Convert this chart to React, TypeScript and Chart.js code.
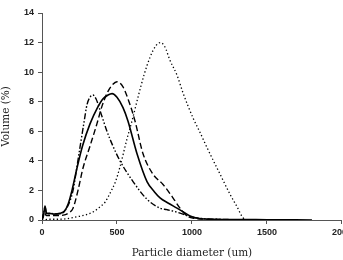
import React, { useEffect, useRef } from "react";
import { Chart, registerables } from "chart.js";

Chart.register(...registerables);

const solidX = [0, 10, 20, 30, 50, 80, 120, 150, 175, 200, 233, 270, 320, 370, 407, 440, 467, 500, 540, 573, 633, 700, 750, 787, 840, 900, 950, 987, 1050, 1150, 1300, 1500, 1800];
const solidY = [0, 0.3, 0.95, 0.45, 0.45, 0.4, 0.45, 0.6, 1.1, 2.0, 3.5, 5.0, 6.5, 7.6, 8.2, 8.45, 8.55, 8.3, 7.6, 6.7, 4.5, 2.6, 1.9, 1.5, 1.15, 0.8, 0.5, 0.27, 0.1, 0.05, 0.03, 0.02, 0];

const dashedX = [0, 15, 30, 60, 100, 150, 180, 207, 240, 273, 320, 366, 400, 440, 470, 500, 540, 580, 620, 673, 740, 807, 873, 920, 967, 1020, 1100, 1200, 1400, 1700];
const dashedY = [0, 0.5, 0.3, 0.3, 0.3, 0.35, 0.5, 0.8, 2.0, 3.5, 5.0, 6.5, 7.7, 8.7, 9.15, 9.35, 9.0, 8.0, 6.7, 4.5, 3.1, 2.4, 1.5, 0.8, 0.27, 0.1, 0.05, 0.03, 0.02, 0];

const dashDotX = [0, 10, 20, 30, 60, 100, 140, 170, 207, 230, 253, 280, 300, 320, 340, 360, 400, 433, 473, 520, 607, 700, 787, 833, 920, 967, 1020, 1100, 1200, 1500];
const dashDotY = [0, 0.4, 0.9, 0.4, 0.45, 0.4, 0.5, 0.9, 2.0, 3.4, 4.9, 6.6, 7.8, 8.3, 8.45, 8.2, 7.0, 6.0, 5.0, 4.0, 2.6, 1.4, 0.8, 0.7, 0.47, 0.3, 0.15, 0.08, 0.04, 0];

const dottedX = [0, 50, 100, 153, 200, 250, 307, 350, 387, 420, 453, 490, 520, 567, 600, 640, 680, 720, 760, 790, 820, 853, 900, 940, 1007, 1050, 1100, 1187, 1253, 1300, 1340, 1370];
const dottedY = [0, 0.05, 0.05, 0.07, 0.15, 0.25, 0.4, 0.6, 0.9, 1.2, 1.8, 2.6, 3.6, 5.5, 6.7, 8.3, 9.8, 11.0, 11.8, 12.0, 11.7, 10.8, 9.8, 8.6, 6.9, 6.0, 4.9, 3.1, 1.75, 0.9, 0.15, 0];

const xTitle = "Particle diameter (um)";
const yTitle = "Volume (%)";

const pts = (xs: number[], ys: number[]) => xs.map((x, i) => ({ x, y: ys[i] }));

export default function App() {
  const ref = useRef<HTMLCanvasElement>(null);
  useEffect(() => {
    if (!ref.current) return;
    const base = {
      borderColor: "#000",
      pointRadius: 0,
      fill: false,
      cubicInterpolationMode: "monotone" as const,
    };
    const chart = new Chart(ref.current, {
      type: "line",
      data: {
        datasets: [
          { ...base, data: pts(dottedX, dottedY), borderWidth: 1.3, borderDash: [1.3, 2.4] },
          { ...base, data: pts(dashDotX, dashDotY), borderWidth: 1.4, borderDash: [6, 2, 1.5, 2, 1.5, 2] },
          { ...base, data: pts(dashedX, dashedY), borderWidth: 1.4, borderDash: [6, 3] },
          { ...base, data: pts(solidX, solidY), borderWidth: 1.6 },
        ],
      },
      options: {
        animation: false,
        responsive: false,
        maintainAspectRatio: false,
        layout: { padding: { top: 13, right: 0, bottom: 0, left: 0 } },
        plugins: { legend: { display: false }, tooltip: { enabled: false } },
        scales: {
          x: {
            type: "linear",
            min: 0,
            max: 2000,
            ticks: {
              stepSize: 500,
              color: "#222",
              font: { family: "Liberation Sans", size: 9, weight: "bold" },
              padding: 3,
              maxRotation: 0,
              callback: (v: any) => String(v),
            },
            grid: { display: true, drawOnChartArea: false, drawTicks: true, tickLength: 4, color: "#555" },
            border: { display: true, color: "#555", width: 1 },
            title: {
              display: true,
              text: xTitle,
              color: "#222",
              font: { family: "DejaVu Serif", size: 10.5 },
              padding: { top: 6, bottom: 0 },
            },
            afterFit: (s: any) => {
              s.height = 40;
            },
          },
          y: {
            min: 0,
            max: 14,
            ticks: {
              stepSize: 2,
              color: "#222",
              font: { family: "Liberation Sans", size: 9, weight: "bold" },
              padding: 4,
            },
            grid: { display: true, drawOnChartArea: false, drawTicks: true, tickLength: 4, color: "#555" },
            border: { display: true, color: "#555", width: 1 },
            title: {
              display: true,
              text: yTitle,
              color: "#222",
              font: { family: "DejaVu Serif", size: 10.5 },
              padding: { top: 0, bottom: 2 },
            },
            afterFit: (s: any) => {
              s.width = 42;
            },
          },
        },
      },
    });
    return () => chart.destroy();
  }, []);
  return (
    <div style={{ position: "absolute", left: 0, top: 0, width: 343, height: 260, overflow: "hidden", background: "#fff" }}>
      <canvas ref={ref} width={355} height={260} style={{ display: "block", width: 355, height: 260 }} />
    </div>
  );
}
